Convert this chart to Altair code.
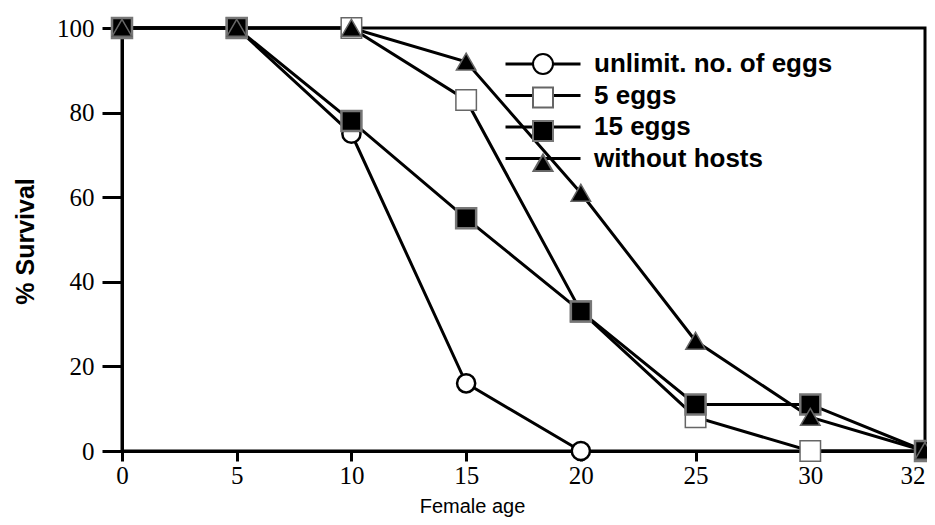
import altair as alt
import pandas as pd

# ---- data ----
series_names = ["unlimit. no. of eggs", "5 eggs", "15 eggs", "without hosts"]
age_ticks = [0, 5, 10, 15, 20, 25, 30, 32]

ages_unlim = [0, 5, 10, 15, 20]
surv_unlim = [100, 100, 75, 16, 0]

ages_5 = [0, 5, 10, 15, 20, 25, 30, 32]
surv_5 = [100, 100, 100, 83, 33, 8, 0, 0]

ages_15 = [0, 5, 10, 15, 20, 25, 30, 32]
surv_15 = [100, 100, 78, 55, 33, 11, 11, 0]

ages_nohost = [0, 5, 10, 15, 20, 25, 30, 32]
surv_nohost = [100, 100, 100, 92, 61, 26, 8, 0]

rows = []
for name, a, s in [
    (series_names[0], ages_unlim, surv_unlim),
    (series_names[1], ages_5, surv_5),
    (series_names[2], ages_15, surv_15),
    (series_names[3], ages_nohost, surv_nohost),
]:
    for ai, si in zip(a, s):
        rows.append({"series": name, "lseries": name, "age": ai, "surv": si})
df = pd.DataFrame(rows)

TRI = "M0,-0.85L0.95,0.8L-0.95,0.8Z"
TRI_LEG = "M0,-1.2L0.95,0.45L-0.95,0.45Z"

common_axis = dict(
    grid=False,
    domainColor="black",
    domainWidth=3,
    tickColor="black",
    tickWidth=3,
    labelFont="Liberation Serif",
    labelFontSize=25,
    labelColor="black",
    titleColor="black",
)

x_enc = alt.X(
    "age:O",
    scale=alt.Scale(type="point", domain=age_ticks, padding=0),
    axis=alt.Axis(
        title="Female age",
        labelAngle=0,
        tickSize=10,
        labelPadding=2,
        labelAlign={"expr": "datum.value == 32 ? 'right' : 'center'"},
        titleFont="Liberation Sans",
        titleFontSize=20,
        titleFontWeight="normal",
        titleX=350,
        titleY=55,
        titleAlign="center",
        titleBaseline="middle",
        **common_axis,
    ),
)
y_enc = alt.Y(
    "surv:Q",
    scale=alt.Scale(domain=[0, 100], nice=False, zero=True),
    axis=alt.Axis(
        title="% Survival",
        values=[0, 20, 40, 60, 80, 100],
        tickSize=20,
        labelPadding=8,
        titleFont="Liberation Sans",
        titleFontSize=25,
        titleFontWeight="bold",
        titleX=-97,
        titleY=213,
        titleAlign="center",
        titleBaseline="middle",
        titleAngle=270,
        **common_axis,
    ),
)

base = alt.Chart(df)

lines = base.mark_line(color="black", strokeWidth=3).encode(
    x=x_enc, y=y_enc, detail="series:N"
)

styles = {
    series_names[0]: dict(shape="circle", fill="white", stroke="black", strokeWidth=2.5, size=330),
    series_names[1]: dict(shape="square", fill="white", stroke="#666666", strokeWidth=1.5, size=420),
    series_names[2]: dict(shape="square", fill="black", stroke="#777777", strokeWidth=2.5, size=400),
    series_names[3]: dict(shape=TRI, fill="black", stroke="#666666", strokeWidth=1.5, size=420),
}

point_layers = []
for name in series_names:
    st = styles[name]
    point_layers.append(
        base.transform_filter(alt.datum.series == name)
        .mark_point(
            shape=st["shape"], filled=True, fill=st["fill"], stroke=st["stroke"],
            strokeWidth=st["strokeWidth"], size=st["size"], opacity=1,
        )
        .encode(x=x_enc, y=y_enc)
    )

LX, LY, RP, LO = 408, 23, 5.5, 38


def leg(label_color, stroke_width):
    return alt.Legend(
        title=None,
        orient="none",
        legendX=LX,
        legendY=LY,
        padding=0,
        symbolOpacity=1,
        symbolStrokeWidth=stroke_width,
        symbolSize=400,
        labelOffset=LO,
        labelFont="Liberation Sans",
        labelFontSize=26,
        labelFontWeight="bold",
        labelColor=label_color,
        labelLimit=400,
        rowPadding=RP,
    )


# legend 1: long black lines with the labels
legend_lines = base.mark_point(opacity=0, size=400).encode(
    x=x_enc,
    y=y_enc,
    shape=alt.Shape(
        "lseries:N",
        scale=alt.Scale(domain=series_names, range=["M-3.75,0H3.75"] * 4),
        legend=alt.Legend(
            title=None,
            orient="none",
            legendX=LX,
            legendY=LY,
            padding=0,
            symbolOpacity=1,
            symbolStrokeColor="black",
            symbolFillColor="transparent",
            symbolStrokeWidth=3,
            symbolSize=400,
            labelOffset=LO,
            labelFont="Liberation Sans",
            labelFontSize=26,
            labelFontWeight="bold",
            labelColor="black",
            labelLimit=400,
            rowPadding=RP,
        ),
    ),
)

# legend 2: the marker symbols drawn over the lines
legend_marks = base.mark_point(opacity=0, size=400, filled=True).encode(
    x=x_enc,
    y=y_enc,
    shape=alt.Shape(
        "series:N",
        scale=alt.Scale(domain=series_names, range=["circle", "square", "square", TRI_LEG]),
        legend=leg("transparent", 2),
    ),
    fill=alt.Fill(
        "series:N",
        scale=alt.Scale(domain=series_names, range=["white", "white", "black", "black"]),
        legend=leg("transparent", 2),
    ),
    stroke=alt.Stroke(
        "series:N",
        scale=alt.Scale(domain=series_names, range=["black", "#666666", "#777777", "#666666"]),
        legend=leg("transparent", 2),
    ),
)

chart = (
    alt.layer(legend_lines, lines, *point_layers, legend_marks)
    .resolve_scale(shape="independent", fill="independent", stroke="independent")
    .resolve_legend(shape="independent", fill="independent", stroke="independent")
    .properties(
        width=803,
        height=423,
        autosize=alt.AutoSizeParams(type="none"),
        padding={"left": 114, "top": 20, "right": 2, "bottom": 66},
        background="white",
        view=alt.ViewBackground(stroke="black", strokeWidth=3),
    )
)

chart.save("out.html", embed_options={"renderer": "svg", "actions": False})
